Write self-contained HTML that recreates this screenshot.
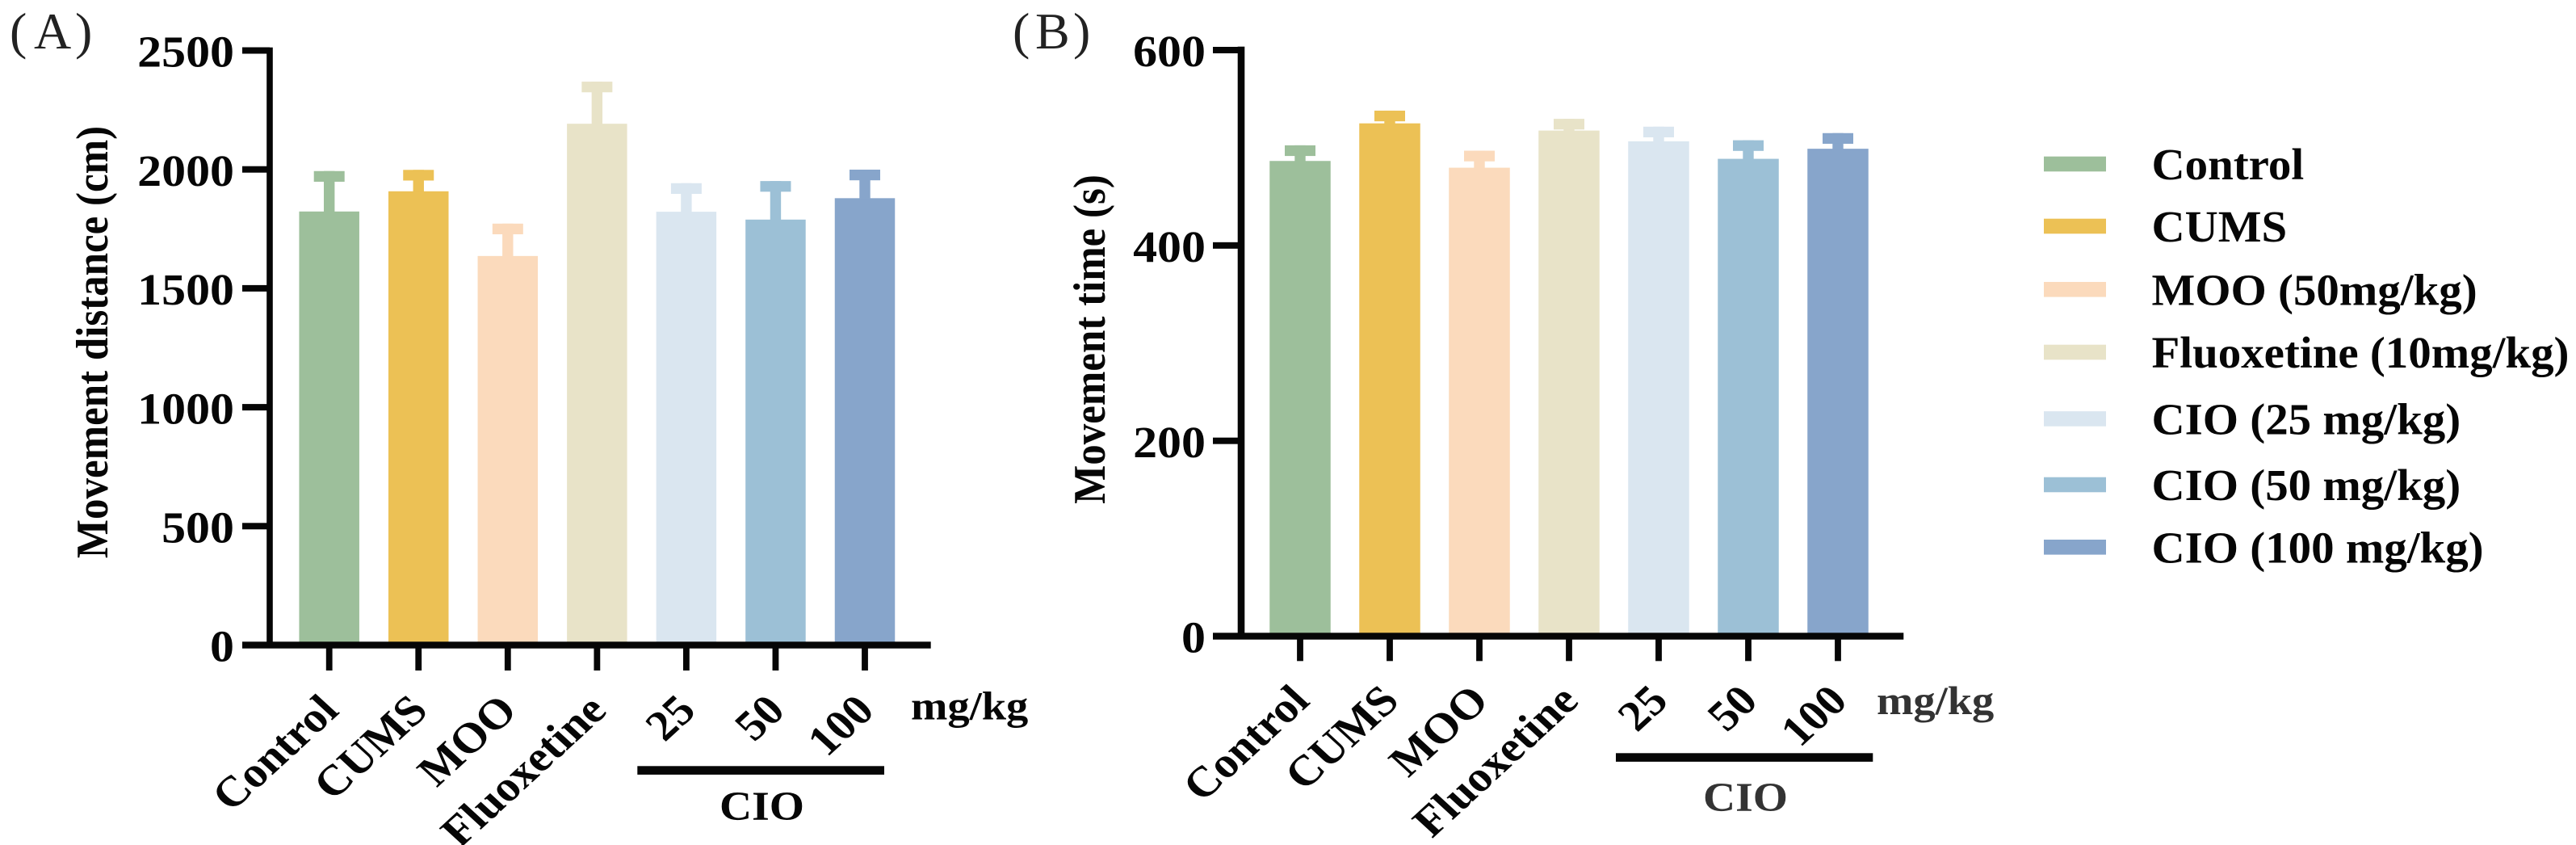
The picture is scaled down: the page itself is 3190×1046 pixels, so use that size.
<!DOCTYPE html>
<html lang="en">
<head>
<meta charset="utf-8">
<title>Movement distance and movement time by treatment group</title>
<style>
html,body{margin:0;padding:0;background:#fff;width:3190px;height:1046px;overflow:hidden}
svg{display:block}
text{font-family:"Liberation Serif","Noto Serif CJK SC",serif;font-weight:bold;fill:#060606}
</style>
</head>
<body>
<svg id="figure" xmlns="http://www.w3.org/2000/svg" width="3190" height="1046" viewBox="0 0 3190 1046">
<rect x="0" y="0" width="3190" height="1046" fill="#ffffff"/>
<text y="60" font-size="64" style="font-weight:normal;fill:#222"><tspan x="12">(</tspan><tspan x="42">A</tspan><tspan x="93">)</tspan></text>
<text y="60" font-size="64" style="font-weight:normal;fill:#222"><tspan x="1254">(</tspan><tspan x="1282">B</tspan><tspan x="1329">)</tspan></text>
</svg>
<script>
const categories = ["Control", "CUMS", "MOO", "Fluoxetine", "25", "50", "100"];
const legendLabels = ["Control", "CUMS", "MOO (50mg/kg)", "Fluoxetine (10mg/kg)", "CIO (25 mg/kg)", "CIO (50 mg/kg)", "CIO (100 mg/kg)"];
const barColors = ["#9dbf9b", "#ecc155", "#fbdabc", "#e8e3c8", "#dae6f0", "#9cc0d6", "#87a5cb"];
const distanceValues = [1823, 1908, 1636, 2192, 1822, 1789, 1879];
const distanceErrors = [170, 90, 136, 177, 120, 162, 120];
const distanceTicks = [0, 500, 1000, 1500, 2000, 2500];
const timeValues = [486.5, 525, 479.6, 517.6, 506.6, 488.7, 499];
const timeErrors = [16, 13, 17.4, 12, 15, 19, 16];
const timeTicks = [0, 200, 400, 600];

const SVG_NS = "http://www.w3.org/2000/svg";
const figure = document.getElementById("figure");
const STRETCH = 1.09;

function shape(tag, attrs, parent) {
  const el = document.createElementNS(SVG_NS, tag);
  for (const k in attrs) el.setAttribute(k, attrs[k]);
  parent.appendChild(el);
  return el;
}
function label(str, x, y, size, anchor, rotate, parent, sx, color) {
  const el = shape("text", {
    transform: "translate(" + x + " " + y + ") scale(" + sx + " 1) rotate(" + rotate + ")",
    "font-size": size,
    "text-anchor": anchor
  }, parent);
  if (color) el.style.fill = color;
  el.textContent = str;
  return el;
}

function drawPanel(p) {
  const g = shape("g", {}, figure);
  
  
  const yScale = v => p.y0 + (p.y1 - p.y0) * v / p.yMax;
  const xScale = i => p.xFirst + p.xStep * i;

  p.values.forEach((v, i) => {
    const cx = xScale(i);
    const top = yScale(v);
    const errTop = yScale(v + p.errors[i]);
    const bar = shape("rect", { x: cx - p.barW / 2, y: top, width: p.barW, height: p.y0 - top, fill: barColors[i] }, g);
    
    
    const stem = shape("rect", { x: cx - 6.7, y: errTop, width: 13.4, height: top - errTop + 1, fill: barColors[i] }, g);
    
    
    const cap = shape("rect", { x: cx - 19, y: errTop, width: 38, height: 13.2, fill: barColors[i] }, g);
    
    
  });

  const yAxis = shape("rect", { x: p.axisX - p.lw / 2, y: yScale(p.yMax) - p.lw / 2, width: p.lw, height: p.y0 - yScale(p.yMax) + p.lw / 2, fill: "#060606" }, g);
  
  
  const xAxis = shape("rect", { x: p.tickLeft, y: p.y0 - 4.2, width: p.axisRight - p.tickLeft, height: 8.4, fill: "#060606" }, g);
  
  

  p.ticks.forEach(t => {
    const ty = yScale(t);
    const tick = shape("rect", { x: p.tickLeft, y: ty - 4, width: p.axisX - p.tickLeft, height: 8, fill: "#060606" }, g);
    
    
    const tl = label(String(t), p.labelRight, ty + 20.2, 55, "end", 0, g, STRETCH);
    
    
  });

  categories.forEach((c, i) => {
    const cx = xScale(i);
    const tick = shape("rect", { x: cx - 3.9, y: p.y0, width: 7.8, height: p.tickBottom - p.y0, fill: "#060606" }, g);
    
    
    const tl = label(c, cx + 14, p.catY, 53, "end", -45, g, STRETCH);
    
    
  });

  const title = label(p.title, p.titleX, p.titleY, 51, "middle", -90, g, STRETCH);
  
  

  const unit = label("mg/kg", p.unitX, p.unitY, 50, "start", 0, g, STRETCH, p.soft);
  
  

  const bracket = shape("rect", { x: p.brX0, y: p.brY, width: p.brX1 - p.brX0, height: 10.6, fill: "#060606" }, g);
  
  
  const cio = label("CIO", p.cioX, p.cioY, 51, "middle", 0, g, STRETCH, p.soft);
  
  
}

drawPanel({
  name: "panel-a-movement-distance", title: "Movement distance (cm)",
  values: distanceValues, errors: distanceErrors, ticks: distanceTicks, yMax: 2500,
  y0: 798.5, y1: 62.5, xFirst: 407.7, xStep: 110.55, barW: 74.5, lw: 7.6,
  axisX: 334, tickLeft: 300, axisRight: 1152.7, labelRight: 290, tickBottom: 830, catY: 882,
  titleX: 133, titleY: 423.5, unitX: 1128, unitY: 890.7,
  brX0: 789.3, brX1: 1095, brY: 948.3, cioX: 943.5, cioY: 1015
});
drawPanel({
  name: "panel-b-movement-time", title: "Movement time (s)",
  values: timeValues, errors: timeErrors, ticks: timeTicks, yMax: 600,
  y0: 787.5, y1: 62, xFirst: 1610, xStep: 111, barW: 75.5, lw: 8.6,
  axisX: 1537, tickLeft: 1502, axisRight: 2357.3, labelRight: 1493, tickBottom: 818.3, catY: 870,
  titleX: 1368, titleY: 420, unitX: 2324, unitY: 884, soft: "#333333",
  brX0: 2001, brX1: 2319.3, brY: 932.3, cioX: 2161.5, cioY: 1004
});

const legend = shape("g", {}, figure);


const legendSwatchCenters = [203, 280, 358.3, 436, 518.4, 600, 677.3];
legendLabels.forEach((name, i) => {
  const cy = legendSwatchCenters[i];
  const entry = shape("g", {}, legend);
  
  
  const sw = shape("rect", { x: 2531, y: cy - 9.3, width: 77, height: 18.6, fill: barColors[i] }, entry);
  
  
  const t = label(name, 2664.5, cy + 19, 55, "start", 0, entry, 1.035);
  
  
});
</script>
</body>
</html>
